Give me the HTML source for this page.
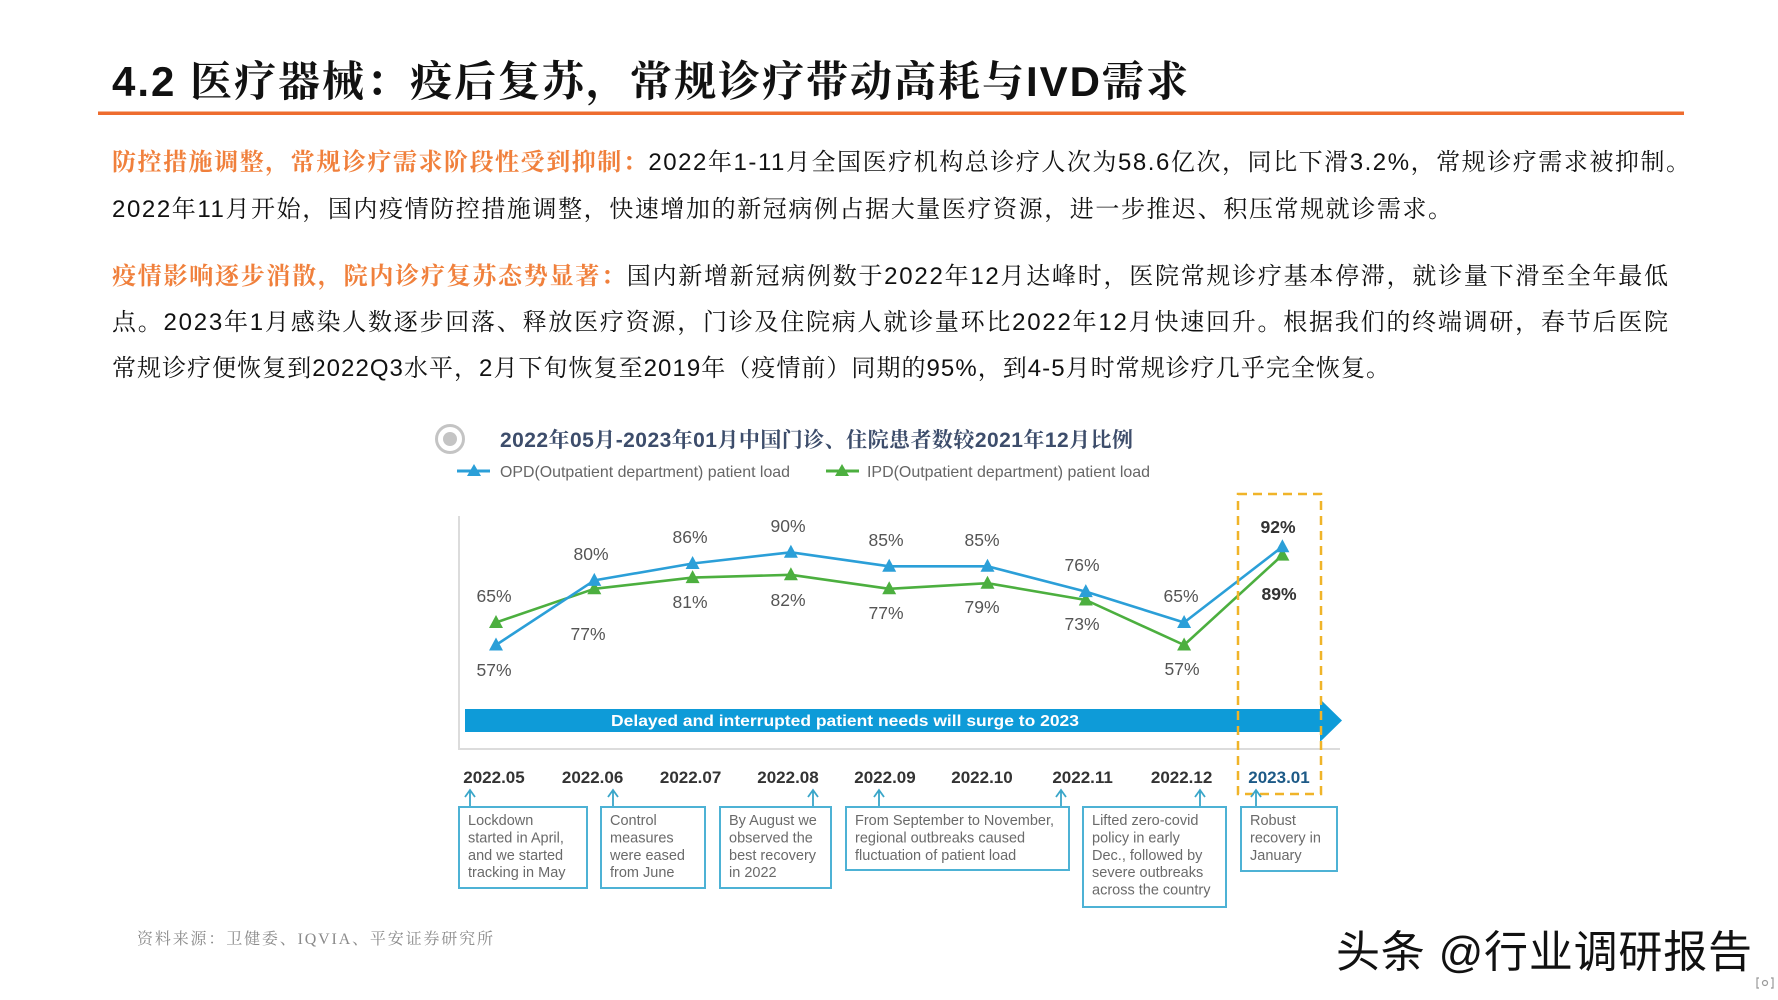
<!DOCTYPE html>
<html>
<head>
<meta charset="utf-8">
<style>
  html,body{margin:0;padding:0;background:#fff;}
  svg{display:block;}
</style>
</head>
<body>
<svg width="1778" height="1000" viewBox="0 0 1778 1000" xmlns="http://www.w3.org/2000/svg">
  <rect x="0" y="0" width="1778" height="1000" fill="#ffffff"/>

  <!-- Title -->
  <text x="112" y="96" font-size="42" font-weight="700" fill="#111" textLength="1076" lengthAdjust="spacing"
        font-family="'Liberation Sans','Noto Serif CJK SC',serif">4.2 医疗器械：疫后复苏，常规诊疗带动高耗与IVD需求</text>
  <rect x="98" y="111.5" width="1586" height="3.5" fill="#ee6c2e"/>

  <!-- Body paragraphs -->
  <g font-size="24" font-family="'Liberation Sans','Noto Serif CJK SC',serif" fill="#111">
    <text x="112" y="170" textLength="1578" lengthAdjust="spacing"><tspan fill="#f0803c" font-weight="700">防控措施调整，常规诊疗需求阶段性受到抑制：</tspan>2022年1-11月全国医疗机构总诊疗人次为58.6亿次，同比下滑3.2%，常规诊疗需求被抑制。</text>
    <text x="112" y="217" textLength="1340" lengthAdjust="spacing">2022年11月开始，国内疫情防控措施调整，快速增加的新冠病例占据大量医疗资源，进一步推迟、积压常规就诊需求。</text>
    <text x="112" y="284" textLength="1556" lengthAdjust="spacing"><tspan fill="#f0803c" font-weight="700">疫情影响逐步消散，院内诊疗复苏态势显著：</tspan>国内新增新冠病例数于2022年12月达峰时，医院常规诊疗基本停滞，就诊量下滑至全年最低</text>
    <text x="112" y="330" textLength="1556" lengthAdjust="spacing">点。2023年1月感染人数逐步回落、释放医疗资源，门诊及住院病人就诊量环比2022年12月快速回升。根据我们的终端调研，春节后医院</text>
    <text x="112" y="376" textLength="1278" lengthAdjust="spacing">常规诊疗便恢复到2022Q3水平，2月下旬恢复至2019年（疫情前）同期的95%，到4-5月时常规诊疗几乎完全恢复。</text>
  </g>

  <!-- Chart title -->
  <circle cx="450" cy="439" r="13.5" fill="none" stroke="#c4c4c4" stroke-width="3"/>
  <circle cx="450" cy="439" r="7" fill="#c4c4c4"/>
  <text x="500" y="447" font-size="21" font-weight="700" fill="#3d4d6b" textLength="633" lengthAdjust="spacing"
        font-family="'Liberation Sans','Noto Serif CJK SC',serif">2022年05月-2023年01月中国门诊、住院患者数较2021年12月比例</text>

  <!-- Legend -->
  <g font-family="'Liberation Sans',sans-serif" font-size="16" fill="#666">
    <line x1="457" y1="471" x2="490" y2="471" stroke="#2b9fd8" stroke-width="3"/>
    <polygon points="474,464 467,476 481,476" fill="#2b9fd8"/>
    <text x="500" y="477" textLength="290" lengthAdjust="spacingAndGlyphs">OPD(Outpatient department) patient load</text>
    <line x1="826" y1="471" x2="859" y2="471" stroke="#4caf3f" stroke-width="3"/>
    <polygon points="842,464 835,476 849,476" fill="#4caf3f"/>
    <text x="867" y="477" textLength="283" lengthAdjust="spacingAndGlyphs">IPD(Outpatient department) patient load</text>
  </g>

  <!-- Frame lines -->
  <line x1="459" y1="516" x2="459" y2="750" stroke="#dcdcdc" stroke-width="2"/>
  <line x1="459" y1="749" x2="1340" y2="749" stroke="#dcdcdc" stroke-width="2"/>

  <!-- Series lines -->
  <polyline fill="none" stroke="#4caf3f" stroke-width="2.6" stroke-linejoin="round"
    points="496,622.5 594.3,588.8 692.6,577.6 790.9,574.8 889.2,588.8 987.5,583.2 1085.8,600 1184.1,645 1282.4,555.1"/>
  <polyline fill="none" stroke="#2b9fd8" stroke-width="2.6" stroke-linejoin="round"
    points="496,645 594.3,580.4 692.6,563.5 790.9,552.3 889.2,566.3 987.5,566.3 1085.8,591.6 1184.1,622.5 1282.4,546.7"/>

  <!-- IPD markers -->
  <g fill="#4caf3f">
    <polygon points="496,615 489,628 503,628"/>
    <polygon points="594.3,581.3 587.3,594.3 601.3,594.3"/>
    <polygon points="692.6,570.1 685.6,583.1 699.6,583.1"/>
    <polygon points="790.9,567.3 783.9,580.3 797.9,580.3"/>
    <polygon points="889.2,581.3 882.2,594.3 896.2,594.3"/>
    <polygon points="987.5,575.7 980.5,588.7 994.5,588.7"/>
    <polygon points="1085.8,592.5 1078.8,605.5 1092.8,605.5"/>
    <polygon points="1184.1,637.5 1177.1,650.5 1191.1,650.5"/>
    <polygon points="1282.4,547.6 1275.4,560.6 1289.4,560.6"/>
  </g>
  <!-- OPD markers -->
  <g fill="#2b9fd8">
    <polygon points="496,637.5 489,650.5 503,650.5"/>
    <polygon points="594.3,572.9 587.3,585.9 601.3,585.9"/>
    <polygon points="692.6,556 685.6,569 699.6,569"/>
    <polygon points="790.9,544.8 783.9,557.8 797.9,557.8"/>
    <polygon points="889.2,558.8 882.2,571.8 896.2,571.8"/>
    <polygon points="987.5,558.8 980.5,571.8 994.5,571.8"/>
    <polygon points="1085.8,584.1 1078.8,597.1 1092.8,597.1"/>
    <polygon points="1184.1,615 1177.1,628 1191.1,628"/>
    <polygon points="1282.4,539.2 1275.4,552.2 1289.4,552.2"/>
  </g>

  <!-- Data labels -->
  <g font-family="'Liberation Sans',sans-serif" font-size="17.5" fill="#555" text-anchor="middle">
    <text x="494" y="676">57%</text>
    <text x="591" y="560">80%</text>
    <text x="690" y="543">86%</text>
    <text x="788" y="532">90%</text>
    <text x="886" y="546">85%</text>
    <text x="982" y="546">85%</text>
    <text x="1082" y="571">76%</text>
    <text x="1181" y="602">65%</text>
    <text x="494" y="602">65%</text>
    <text x="588" y="640">77%</text>
    <text x="690" y="608">81%</text>
    <text x="788" y="606">82%</text>
    <text x="886" y="619">77%</text>
    <text x="982" y="613">79%</text>
    <text x="1082" y="630">73%</text>
    <text x="1182" y="675">57%</text>
  </g>
  <g font-family="'Liberation Sans',sans-serif" font-size="17.5" font-weight="700" fill="#333" text-anchor="middle">
    <text x="1278" y="533">92%</text>
    <text x="1279" y="600">89%</text>
  </g>

  <!-- Blue arrow band -->
  <rect x="465" y="709" width="857" height="23" fill="#0e9bd8"/>
  <polygon points="1320,699 1342,720.5 1320,742" fill="#0e9bd8"/>
  <text x="611" y="726" font-family="'Liberation Sans',sans-serif" font-size="16" font-weight="700" fill="#ffffff"
        textLength="468" lengthAdjust="spacingAndGlyphs">Delayed and interrupted patient needs will surge to 2023</text>

  <!-- Dashed highlight -->
  <rect x="1238" y="494" width="83" height="300" fill="none" stroke="#f0b429" stroke-width="2.5" stroke-dasharray="9 6"/>

  <!-- Date labels -->
  <g font-family="'Liberation Sans',sans-serif" font-size="17" font-weight="700" fill="#333" text-anchor="middle">
    <text x="494" y="783">2022.05</text>
    <text x="592.6" y="783">2022.06</text>
    <text x="690.6" y="783">2022.07</text>
    <text x="788" y="783">2022.08</text>
    <text x="885" y="783">2022.09</text>
    <text x="982" y="783">2022.10</text>
    <text x="1082.6" y="783">2022.11</text>
    <text x="1181.6" y="783">2022.12</text>
    <text x="1279" y="783" fill="#1d5a87">2023.01</text>
  </g>

  <!-- Up arrows -->
  <g stroke="#3aa6c9" stroke-width="1.8" fill="none">
    <path d="M470,807 V791 M465,797 L470,790 L475,797"/>
    <path d="M613,807 V791 M608,797 L613,790 L618,797"/>
    <path d="M813,807 V791 M808,797 L813,790 L818,797"/>
    <path d="M879,807 V791 M874,797 L879,790 L884,797"/>
    <path d="M1061,807 V791 M1056,797 L1061,790 L1066,797"/>
    <path d="M1200,807 V791 M1195,797 L1200,790 L1205,797"/>
    <path d="M1256,807 V791 M1251,797 L1256,790 L1261,797"/>
  </g>

  <!-- Annotation boxes -->
  <g fill="none" stroke="#4db2d5" stroke-width="2">
    <rect x="459" y="807" width="128" height="81"/>
    <rect x="601" y="807" width="104" height="81"/>
    <rect x="720" y="807" width="111" height="81"/>
    <rect x="846" y="807" width="223" height="63"/>
    <rect x="1083" y="807" width="143" height="100"/>
    <rect x="1241" y="807" width="96" height="64"/>
  </g>
  <g font-family="'Liberation Sans',sans-serif" font-size="14.5" fill="#6a6a6a">
    <text x="468" y="825">Lockdown</text>
    <text x="468" y="842.4">started in April,</text>
    <text x="468" y="859.8">and we started</text>
    <text x="468" y="877.2">tracking in May</text>

    <text x="610" y="825">Control</text>
    <text x="610" y="842.4">measures</text>
    <text x="610" y="859.8">were eased</text>
    <text x="610" y="877.2">from June</text>

    <text x="729" y="825">By August we</text>
    <text x="729" y="842.4">observed the</text>
    <text x="729" y="859.8">best recovery</text>
    <text x="729" y="877.2">in 2022</text>

    <text x="855" y="825">From September to November,</text>
    <text x="855" y="842.4">regional outbreaks caused</text>
    <text x="855" y="859.8">fluctuation of patient load</text>

    <text x="1092" y="825">Lifted zero-covid</text>
    <text x="1092" y="842.4">policy in early</text>
    <text x="1092" y="859.8">Dec., followed by</text>
    <text x="1092" y="877.2">severe outbreaks</text>
    <text x="1092" y="894.6">across the country</text>

    <text x="1250" y="825">Robust</text>
    <text x="1250" y="842.4">recovery in</text>
    <text x="1250" y="859.8">January</text>
  </g>

  <!-- Source -->
  <text x="137" y="944" font-size="16" fill="#8a8a8a" textLength="356" lengthAdjust="spacing"
        font-family="'Liberation Serif','Noto Serif CJK SC',serif">资料来源：卫健委、IQVIA、平安证券研究所</text>

  <!-- Watermark -->
  <text x="1336" y="967" font-size="44" fill="#111" textLength="416" lengthAdjust="spacing"
        font-family="'Liberation Sans','Noto Sans CJK SC',sans-serif">头条 @行业调研报告</text>

  <!-- small corner icon -->
  <g stroke="#999" stroke-width="1.2" fill="none">
    <path d="M1759,978 h-2 v10 h2"/>
    <path d="M1771,978 h2 v10 h-2"/>
    <circle cx="1765" cy="983" r="2.5"/>
  </g>
</svg>
</body>
</html>
